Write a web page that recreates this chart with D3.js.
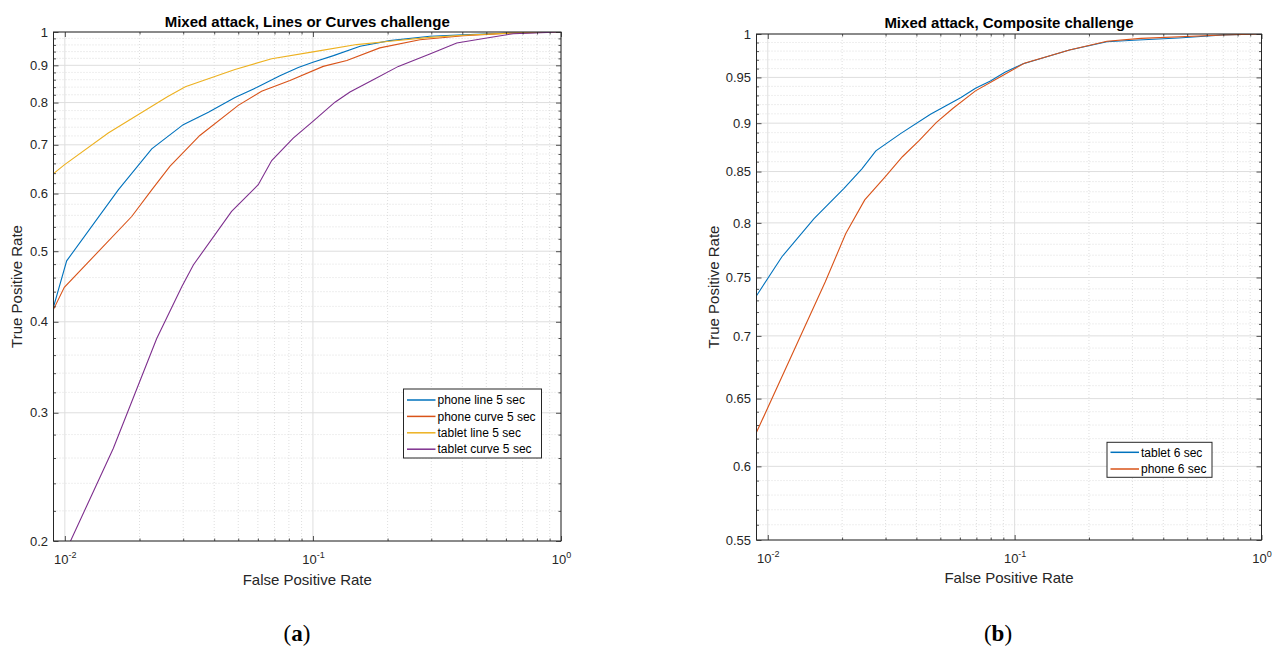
<!DOCTYPE html>
<html>
<head>
<meta charset="utf-8">
<script src="https://cdn.jsdelivr.net/npm/d3@7"></script>
<style>
body { margin: 0; background: #fff; }
svg { display: block; font-family: "Liberation Sans", Arial, sans-serif; }
</style>
</head>
<body>
<svg width="1279" height="648"></svg>
<script>
// ---- data ----
const xDomain = [0.009, 1];
const xMajorTicks = [0.01, 0.1, 1];
const xTickExponents = ["-2", "-1", "0"];

const leftYTicks = [0.2, 0.3, 0.4, 0.5, 0.6, 0.7, 0.8, 0.9, 1];
const leftYTickLabels = ["0.2", "0.3", "0.4", "0.5", "0.6", "0.7", "0.8", "0.9", "1"];
const rightYTicks = [0.55, 0.6, 0.65, 0.7, 0.75, 0.8, 0.85, 0.9, 0.95, 1];
const rightYTickLabels = ["0.55", "0.6", "0.65", "0.7", "0.75", "0.8", "0.85", "0.9", "0.95", "1"];

// (a) Lines or Curves challenge
const fprPhoneLine = [0.009, 0.01017, 0.01642, 0.0224, 0.030, 0.0379, 0.0485, 0.0593, 0.0736, 0.0873, 0.1, 0.121, 0.155, 0.204, 0.296, 0.404, 0.642, 1];
const tprPhoneLine = [0.419, 0.485, 0.607, 0.691, 0.746, 0.776, 0.813, 0.839, 0.871, 0.894, 0.9085, 0.928, 0.956, 0.973, 0.9865, 0.9915, 0.997, 1];

const fprPhoneCurve = [0.009, 0.00995, 0.0186, 0.0224, 0.0265, 0.035, 0.05, 0.0621, 0.0808, 0.11, 0.137, 0.186, 0.27, 0.404, 0.642, 1];
const tprPhoneCurve = [0.416, 0.446, 0.558, 0.607, 0.654, 0.721, 0.793, 0.829, 0.858, 0.897, 0.914, 0.951, 0.976, 0.988, 0.997, 1];

const fprTabletLine = [0.009, 0.00995, 0.01496, 0.0259, 0.0306, 0.0485, 0.0682, 0.1, 0.150, 0.204, 0.296, 0.404, 0.642, 1];
const tprTabletLine = [0.639, 0.657, 0.7265, 0.815, 0.841, 0.888, 0.919, 0.939, 0.961, 0.971, 0.983, 0.990, 0.997, 1];

const fprTabletCurve = [0.0104, 0.01567, 0.02346, 0.0296, 0.033, 0.047, 0.0602, 0.0682, 0.0833, 0.1, 0.1227, 0.141, 0.175, 0.221, 0.296, 0.380, 0.502, 0.642, 1];
const tprTabletCurve = [0.198, 0.268, 0.3795, 0.447, 0.479, 0.567, 0.617, 0.666, 0.715, 0.754, 0.801, 0.827, 0.860, 0.897, 0.933, 0.966, 0.981, 0.9947, 1];

// (b) Composite challenge
const fprTablet6 = [0.009, 0.01141, 0.01539, 0.02036, 0.02406, 0.0274, 0.0345, 0.0456, 0.0604, 0.0694, 0.0798, 0.0913, 0.1076, 0.1667, 0.2366, 0.3027, 0.461, 0.70, 1];
const tprTablet6 = [0.734, 0.7686, 0.804, 0.8333, 0.8527, 0.871, 0.889, 0.9095, 0.9275, 0.938, 0.946, 0.9557, 0.9652, 0.9813, 0.9909, 0.9926, 0.9953, 0.9988, 1];

const fprPhone6 = [0.009, 0.01708, 0.0207, 0.0247, 0.02994, 0.0351, 0.0411, 0.0481, 0.0563, 0.0694, 0.0887, 0.1094, 0.1667, 0.2366, 0.3245, 0.70, 1];
const tprPhone6 = [0.6246, 0.746, 0.790, 0.822, 0.8449, 0.865, 0.882, 0.9006, 0.916, 0.935, 0.9516, 0.966, 0.9813, 0.9915, 0.9949, 0.9988, 1];

const leftNames = ["phone line 5 sec", "phone curve 5 sec", "tablet line 5 sec", "tablet curve 5 sec"];
const rightNames = ["tablet 6 sec", "phone 6 sec"];

const matlabColors = ["#0072BD", "#D95319", "#EDB120", "#7E2F8E"];
const ink = "#262626";

const zip = (xs, ys) => xs.map((v, i) => [v, ys[i]]);

const svg = d3.select("svg");

const xMinorTicks = [0.01, 0.1].flatMap(dec => d3.range(2, 10).map(k => k * dec));

function drawPanel(p) {
    const x = d3.scaleLog().domain(xDomain).range([p.left, p.right]);
    const y = d3.scaleLog().domain(p.yDomain).range([p.bottom, p.top]);
    const g = svg.append("g");
    const isMajor = v => p.yTicks.some(t => Math.abs(t - v) < 1e-6);
    const yMinor = d3.range(p.yDomain[0], 1 + 1e-9, p.yMinorStep)
        .map(v => +v.toFixed(3)).filter(v => !isMajor(v));

    // minor grid (dotted)
    const mg = g.append("g").attr("stroke", "#d6d6d6").attr("stroke-width", 0.8)
        .attr("stroke-dasharray", "1,2");
    mg.selectAll("line.vx").data(xMinorTicks).join("line").attr("class", "vx")
        .attr("x1", d => x(d)).attr("x2", d => x(d))
        .attr("y1", p.top).attr("y2", p.bottom);
    mg.selectAll("line.hy").data(yMinor).join("line").attr("class", "hy")
        .attr("x1", p.left).attr("x2", p.right)
        .attr("y1", d => y(d)).attr("y2", d => y(d));

    // major grid
    const gg = g.append("g").attr("stroke", "#dedede").attr("stroke-width", 1);
    gg.selectAll("line.vx").data(xMajorTicks).join("line").attr("class", "vx")
        .attr("x1", d => x(d)).attr("x2", d => x(d))
        .attr("y1", p.top).attr("y2", p.bottom);
    gg.selectAll("line.hy").data(p.yTicks).join("line").attr("class", "hy")
        .attr("x1", p.left).attr("x2", p.right)
        .attr("y1", d => y(d)).attr("y2", d => y(d));

    // curves
    const clipId = "clip-" + p.id;
    svg.append("clipPath").attr("id", clipId).append("rect")
        .attr("x", p.left).attr("y", p.top)
        .attr("width", p.right - p.left).attr("height", p.bottom - p.top);

    const line = d3.line().x(d => x(d[0])).y(d => y(d[1]));
    g.append("g").attr("clip-path", `url(#${clipId})`)
        .selectAll("path")
        .data(p.series)
        .join("path")
        .attr("d", d => line(d.pts))
        .attr("fill", "none")
        .attr("stroke", d => d.color)
        .attr("stroke-width", 1.1);

    // axes: ticks point inward on all four sides
    const clean = sel => {
        sel.select(".domain").remove();
        sel.attr("font-size", 13).attr("font-family", null).attr("color", ink);
        sel.selectAll(".tick line").attr("stroke-width", 0.8);
    };

    g.append("g").attr("transform", `translate(${p.left},0)`)
        .call(d3.axisLeft(y).tickValues(p.yTicks).tickFormat((d, i) => p.yTickLabels[i])
            .tickSize(-5).tickPadding(5.5))
        .call(clean);
    g.append("g").attr("transform", `translate(${p.left},0)`)
        .call(d3.axisLeft(y).tickValues(yMinor).tickFormat("").tickSize(-2.5))
        .call(clean);
    g.append("g").attr("transform", `translate(${p.right},0)`)
        .call(d3.axisRight(y).tickValues(p.yTicks).tickFormat("").tickSize(-5))
        .call(clean);
    g.append("g").attr("transform", `translate(${p.right},0)`)
        .call(d3.axisRight(y).tickValues(yMinor).tickFormat("").tickSize(-2.5))
        .call(clean);

    const bx = g.append("g").attr("transform", `translate(0,${p.bottom})`)
        .call(d3.axisBottom(x).tickValues(xMajorTicks).tickFormat("").tickSize(-5))
        .call(clean);
    bx.selectAll(".tick text")
        .attr("y", 23).attr("dy", null)
        .each(function (d, i) {
            const t = d3.select(this);
            t.append("tspan").text("10");
            t.append("tspan").attr("font-size", 9).attr("dy", -6).text(xTickExponents[i]);
        });
    g.append("g").attr("transform", `translate(0,${p.bottom})`)
        .call(d3.axisBottom(x).tickValues(xMinorTicks).tickFormat("").tickSize(-2.5))
        .call(clean);
    g.append("g").attr("transform", `translate(0,${p.top})`)
        .call(d3.axisTop(x).tickValues(xMajorTicks).tickFormat("").tickSize(-5))
        .call(clean);
    g.append("g").attr("transform", `translate(0,${p.top})`)
        .call(d3.axisTop(x).tickValues(xMinorTicks).tickFormat("").tickSize(-2.5))
        .call(clean);

    // box
    g.append("rect")
        .attr("x", p.left).attr("y", p.top)
        .attr("width", p.right - p.left).attr("height", p.bottom - p.top)
        .attr("fill", "none").attr("stroke", ink).attr("stroke-width", 1);

    const cx = (p.left + p.right) / 2;

    g.append("text")
        .attr("x", cx).attr("y", p.titleY)
        .attr("text-anchor", "middle")
        .attr("font-size", 15).attr("font-weight", "bold").attr("fill", "#000")
        .text(p.title);

    g.append("text")
        .attr("x", cx).attr("y", p.xLabelY)
        .attr("text-anchor", "middle")
        .attr("font-size", 15).attr("fill", ink)
        .text("False Positive Rate");

    g.append("text")
        .attr("transform", `translate(${p.yLabelX},${(p.top + p.bottom) / 2}) rotate(-90)`)
        .attr("text-anchor", "middle")
        .attr("font-size", 15).attr("fill", ink)
        .text("True Positive Rate");

    // legend
    const lg = g.append("g");
    lg.append("rect")
        .attr("x", p.legend.x).attr("y", p.legend.y)
        .attr("width", p.legend.w).attr("height", p.legend.h)
        .attr("fill", "#fff").attr("stroke", ink).attr("stroke-width", 1);
    const rows = lg.selectAll("g.row").data(p.series).join("g").attr("class", "row")
        .attr("transform", (d, i) => `translate(${p.legend.x},${p.legend.y + p.legend.first + i * p.legend.step})`);
    rows.append("line")
        .attr("x1", 3.5).attr("x2", 32)
        .attr("stroke", d => d.color).attr("stroke-width", 1.5);
    rows.append("text")
        .attr("x", 34).attr("dy", "0.35em")
        .attr("font-size", 12).attr("fill", "#000")
        .text(d => d.name);

    // panel letter
    const lt = svg.append("text")
        .attr("x", p.letterX).attr("y", 641)
        .attr("text-anchor", "middle")
        .attr("font-family", "'Liberation Serif', 'Times New Roman', serif")
        .attr("font-size", 23).attr("fill", "#000");
    lt.append("tspan").text("(");
    lt.append("tspan").attr("font-weight", "bold").text(p.letter);
    lt.append("tspan").text(")");
}

drawPanel({
    id: "a",
    left: 53.5, right: 561, top: 32, bottom: 541,
    yDomain: [0.2, 1], yTicks: leftYTicks, yTickLabels: leftYTickLabels, yMinorStep: 0.02,
    title: "Mixed attack, Lines or Curves challenge", titleY: 26.5,
    xLabelY: 585, yLabelX: 22,
    series: [
        { name: leftNames[0], color: matlabColors[0], pts: zip(fprPhoneLine, tprPhoneLine) },
        { name: leftNames[1], color: matlabColors[1], pts: zip(fprPhoneCurve, tprPhoneCurve) },
        { name: leftNames[2], color: matlabColors[2], pts: zip(fprTabletLine, tprTabletLine) },
        { name: leftNames[3], color: matlabColors[3], pts: zip(fprTabletCurve, tprTabletCurve) }
    ],
    legend: { x: 403.5, y: 389, w: 138, h: 69, first: 11, step: 16.4 },
    letter: "a", letterX: 297
});

drawPanel({
    id: "b",
    left: 756.5, right: 1261.5, top: 34, bottom: 540,
    yDomain: [0.55, 1], yTicks: rightYTicks, yTickLabels: rightYTickLabels, yMinorStep: 0.01,
    title: "Mixed attack, Composite challenge", titleY: 27.5,
    xLabelY: 583, yLabelX: 719,
    series: [
        { name: rightNames[0], color: matlabColors[0], pts: zip(fprTablet6, tprTablet6) },
        { name: rightNames[1], color: matlabColors[1], pts: zip(fprPhone6, tprPhone6) }
    ],
    legend: { x: 1107, y: 442.3, w: 105, h: 35, first: 10, step: 16.7 },
    letter: "b", letterX: 998
});
</script>
</body>
</html>
